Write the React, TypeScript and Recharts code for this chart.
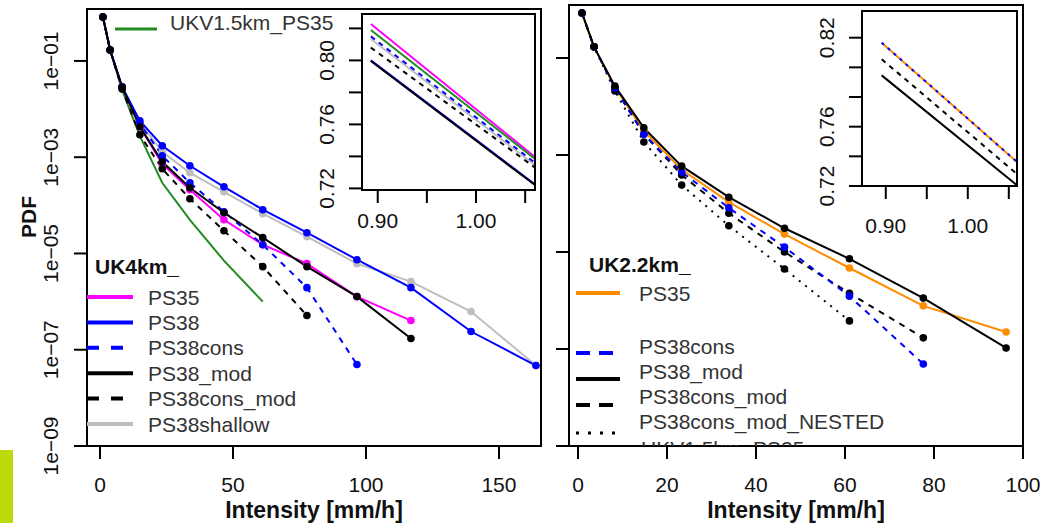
import { Line, LineChart, XAxis, YAxis } from 'recharts'

const FONT = '"Liberation Sans", Arial, Helvetica, sans-serif'

// ---- UK4km panel (left) ----
const uk4Intensity = [1.1, 3.8, 8.3, 15, 23.4, 33.8, 46.6, 61.2, 77.8, 96.6, 116.9, 139.5, 163.9]
const uk4PS35 = [0.818, 0.169, 0.0288, 0.00428, 0.00073, 0.000211, 5.02e-5, 1.52e-5, 6.14e-6, 1.27e-6, 4.04e-7]
const uk4PS38 = [0.818, 0.169, 0.029, 0.00569, 0.00173, 0.000664, 0.000243, 8.11e-5, 2.7e-5, 7.43e-6, 1.95e-6, 2.39e-7, 4.7e-8]
const uk4PS38cons = [0.818, 0.169, 0.0285, 0.005, 0.00107, 0.000294, 7.36e-5, 1.52e-5, 1.95e-6, 4.93e-8]
const uk4PS38mod = [0.818, 0.169, 0.0288, 0.00428, 0.000804, 0.000232, 7.01e-5, 2.13e-5, 5.32e-6, 1.27e-6, 1.71e-7]
const uk4PS38consMod = [0.818, 0.169, 0.026, 0.00292, 0.000574, 0.000137, 2.97e-5, 5.32e-6, 5.13e-7]
const uk4PS38shallow = [0.818, 0.169, 0.029, 0.00513, 0.00129, 0.000474, 0.000191, 6.7e-5, 2.23e-5, 6.14e-6, 2.6e-6, 6.21e-7, 4.7e-8]
const ukvPS35 = [0.818, 0.169, 0.0251, 0.00275, 0.000295, 5.0e-5, 7.1e-6, 1.0e-6]

// ---- UK2.2km panel (right) ----
const uk22Intensity = [0.9, 3.6, 8.3, 14.8, 23.3, 33.9, 46.4, 61.0, 77.6, 96.2]
const uk22PS35 = [0.847, 0.17, 0.0251, 0.00316, 0.000501, 0.000107, 2.34e-5, 4.68e-6, 7.76e-7, 2.24e-7]
const uk22PS38cons = [0.847, 0.17, 0.024, 0.00269, 0.000447, 8.13e-5, 1.26e-5, 1.23e-6, 4.9e-8]
const uk22PS38mod = [0.847, 0.17, 0.0263, 0.00363, 0.000589, 0.000135, 3.09e-5, 7.24e-6, 1.12e-6, 1.05e-7]
const uk22PS38consMod = [0.847, 0.17, 0.024, 0.00269, 0.000389, 6.31e-5, 1.0e-5, 1.41e-6, 1.7e-7]
const uk22Nested = [0.847, 0.17, 0.0209, 0.00186, 0.00024, 3.47e-5, 4.47e-6, 3.8e-7]

// ---- insets (zoom on first bin) ----
const inset4X = [0.893, 1.06]
const inset4PS35 = [0.8228, 0.7396]
const inset4UKV = [0.819, 0.7384]
const inset4PS38cons = [0.815, 0.736]
const inset4Shallow = [0.8134, 0.7345]
const inset4ConsMod = [0.808, 0.733]
const inset4PS38 = [0.8, 0.7225]
const inset4Mod = [0.7996, 0.7221]

const inset22X = [0.895, 1.06]
const inset22PS35 = [0.8166, 0.7362]
const inset22PS38cons = [0.8166, 0.7362]
const inset22ConsMod = [0.8055, 0.7281]
const inset22Mod = [0.7946, 0.7205]

const logTicks = [1e-9, 1e-7, 1e-5, 1e-3, 1e-1]
const logTickLabels = ['1e\u221209', '1e\u221207', '1e\u221205', '1e\u221203', '1e\u221201']
const uk4XTicks = [0, 50, 100, 150]
const uk22XTicks = [0, 20, 40, 60, 80, 100]
const insetYTicks = [0.72, 0.74, 0.76, 0.78, 0.8, 0.82]
const insetXTicks = [0.9, 0.95, 1.0, 1.05]

const pts = (xs: number[], ys: number[]) => ys.map((y, i) => ({ x: xs[i], y }))

type S = { name: string; data: { x: number; y: number }[]; color: string; dash?: string; dots?: boolean; w?: number }

const uk4Series: S[] = [
  { name: 'PS38shallow', data: pts(uk4Intensity, uk4PS38shallow), color: '#BEBEBE', dots: true },
  { name: 'UKV1.5km_PS35', data: pts(uk4Intensity, ukvPS35), color: '#228B22' },
  { name: 'PS35', data: pts(uk4Intensity, uk4PS35), color: '#FF00FF', dots: true },
  { name: 'PS38', data: pts(uk4Intensity, uk4PS38), color: '#0000FF', dots: true },
  { name: 'PS38cons', data: pts(uk4Intensity, uk4PS38cons), color: '#0000FF', dash: '6 6', dots: true },
  { name: 'PS38cons_mod', data: pts(uk4Intensity, uk4PS38consMod), color: '#000000', dash: '6 6', dots: true },
  { name: 'PS38_mod', data: pts(uk4Intensity, uk4PS38mod), color: '#000000', dots: true },
]

const uk22Series: S[] = [
  { name: 'PS35', data: pts(uk22Intensity, uk22PS35), color: '#FF8C00', dots: true },
  { name: 'PS38cons_mod_NESTED', data: pts(uk22Intensity, uk22Nested), color: '#000000', dash: '2 6', dots: true },
  { name: 'PS38cons_mod', data: pts(uk22Intensity, uk22PS38consMod), color: '#000000', dash: '6 6', dots: true },
  { name: 'PS38cons', data: pts(uk22Intensity, uk22PS38cons), color: '#0000FF', dash: '6 6', dots: true },
  { name: 'PS38_mod', data: pts(uk22Intensity, uk22PS38mod), color: '#000000', dots: true },
]

const inset4Series: S[] = [
  { name: 'PS38shallow', data: pts(inset4X, inset4Shallow), color: '#BEBEBE' },
  { name: 'PS35', data: pts(inset4X, inset4PS35), color: '#FF00FF' },
  { name: 'UKV', data: pts(inset4X, inset4UKV), color: '#228B22' },
  { name: 'PS38cons', data: pts(inset4X, inset4PS38cons), color: '#0000FF', dash: '5 5' },
  { name: 'PS38cons_mod', data: pts(inset4X, inset4ConsMod), color: '#000000', dash: '5 5' },
  { name: 'PS38', data: pts(inset4X, inset4PS38), color: '#0000FF' },
  { name: 'PS38_mod', data: pts(inset4X, inset4Mod), color: '#000000' },
]

const inset22Series: S[] = [
  { name: 'PS35', data: pts(inset22X, inset22PS35), color: '#FF8C00' },
  { name: 'PS38cons', data: pts(inset22X, inset22PS38cons), color: '#0000FF', dash: '3 5' },
  { name: 'PS38cons_mod', data: pts(inset22X, inset22ConsMod), color: '#000000', dash: '5 5' },
  { name: 'PS38_mod', data: pts(inset22X, inset22Mod), color: '#000000' },
]

function renderLines(series: S[]) {
  return series.map((s) => (
    <Line
      key={s.name}
      data={s.data}
      dataKey='y'
      type='linear'
      stroke={s.color}
      strokeWidth={s.w ?? 2}
      strokeDasharray={s.dash}
      dot={s.dots ? { r: 3.8, fill: s.color, stroke: 'none' } : false}
      activeDot={false}
      isAnimationActive={false}
    />
  ))
}

const txt = { fontFamily: FONT, fontSize: 21, fill: '#111' }

function MainPanel(props: {
  left: number; width: number; top: number; yWidth: number; right: number
  xDomain: [number, number]; yMax: number; xTicks: number[]; series: S[]; labels: boolean
}) {
  const { left, width, top, yWidth, right, xDomain, yMax, xTicks, series, labels } = props
  return (
    <div style={{ position: 'absolute', left, top: 0 }}>
      <LineChart width={width} height={523} margin={{ top, right, bottom: 0, left: 0 }}>
        <XAxis
          type='number'
          dataKey='x'
          domain={xDomain}
          allowDataOverflow
          ticks={xTicks}
          interval={0}
          height={77}
          tickSize={13}
          stroke='#000'
          axisLine={false}
          tickLine={{ stroke: '#000', strokeWidth: 2 }}
          tick={(p: any) => (
            <text x={p.x} y={492} textAnchor='middle' style={txt}>
              {p.payload.value}
            </text>
          )}
        />
        <YAxis
          type='number'
          scale='log'
          domain={[1e-9, yMax]}
          allowDataOverflow
          ticks={logTicks}
          interval={0}
          width={yWidth}
          tickSize={13}
          stroke='#000'
          axisLine={false}
          tickLine={{ stroke: '#000', strokeWidth: 2 }}
          tick={(p: any) =>
            labels ? (
              <text transform={`translate(58, ${p.y}) rotate(-90)`} textAnchor='middle' style={txt}>
                {logTickLabels[logTicks.indexOf(p.payload.value)]}
              </text>
            ) : (
              <g />
            )
          }
        />
        {renderLines(series)}
      </LineChart>
    </div>
  )
}

function Inset(props: {
  left: number; width: number; top: number; right: number; xHeight: number
  xDomain: [number, number]; yDomain: [number, number]; yLabels: number[]; xLabelY: number; series: S[]
}) {
  const { left, width, top, right, xHeight, xDomain, yDomain, yLabels, xLabelY, series } = props
  return (
    <div style={{ position: 'absolute', left, top: 0 }}>
      <LineChart width={width} height={240} margin={{ top, right, bottom: 0, left: 0 }}>
        <XAxis
          type='number'
          dataKey='x'
          domain={xDomain}
          allowDataOverflow
          ticks={insetXTicks}
          interval={0}
          height={xHeight}
          tickSize={13}
          stroke='#000'
          axisLine={false}
          tickLine={{ stroke: '#000', strokeWidth: 2 }}
          tick={(p: any) =>
            [0.9, 1.0].includes(p.payload.value) ? (
              <text x={p.x} y={xLabelY} textAnchor='middle' style={txt}>
                {Number(p.payload.value).toFixed(2)}
              </text>
            ) : (
              <g />
            )
          }
        />
        <YAxis
          type='number'
          domain={yDomain}
          allowDataOverflow
          ticks={insetYTicks}
          interval={0}
          width={62}
          tickSize={13}
          stroke='#000'
          axisLine={false}
          tickLine={{ stroke: '#000', strokeWidth: 2 }}
          tick={(p: any) =>
            yLabels.includes(p.payload.value) ? (
              <text transform={`translate(34, ${p.y}) rotate(-90)`} textAnchor='middle' style={txt}>
                {Number(p.payload.value).toFixed(2)}
              </text>
            ) : (
              <g />
            )
          }
        />
        {renderLines(series)}
      </LineChart>
    </div>
  )
}

const uk4Legend = [
  { label: 'PS35', color: '#FF00FF' },
  { label: 'PS38', color: '#0000FF' },
  { label: 'PS38cons', color: '#0000FF', dash: '12 12' },
  { label: 'PS38_mod', color: '#000000' },
  { label: 'PS38cons_mod', color: '#000000', dash: '12 12' },
  { label: 'PS38shallow', color: '#BEBEBE' },
]

const uk22Legend = [
  { label: 'PS35', color: '#FF8C00', y: 293, ly: 293 },
  { label: 'PS38cons', color: '#0000FF', dash: '14 9', y: 346, ly: 353 },
  { label: 'PS38_mod', color: '#000000', y: 371, ly: 379 },
  { label: 'PS38cons_mod', color: '#000000', dash: '14 9', y: 396, ly: 405 },
  { label: 'PS38cons_mod_NESTED', color: '#000000', dash: '3 9', y: 421, ly: 433 },
]

function Overlay() {
  const lt = { fontFamily: FONT, fontSize: 21, fill: '#333' }
  const bold = { fontFamily: FONT, fontSize: 21, fontWeight: 700, fill: '#111' }
  const title = { fontFamily: FONT, fontSize: 23, fontWeight: 700, fill: '#111' }
  return (
    <svg width={1042} height={523} style={{ position: 'absolute', left: 0, top: 0, pointerEvents: 'none' }}>
      <defs>
        <clipPath id='rclip'>
          <rect x={569} y={5} width={454} height={441} />
        </clipPath>
      </defs>
      <rect x={87} y={9} width={454} height={437} fill='none' stroke='#000' strokeWidth={2} />
      <rect x={569} y={5} width={454} height={441} fill='none' stroke='#000' strokeWidth={2} />
      <rect x={362} y={14} width={173} height={176} fill='none' stroke='#000' strokeWidth={2} />
      <rect x={862} y={11} width={155} height={175} fill='none' stroke='#000' strokeWidth={2} />
      <rect x={0} y={450} width={13} height={73} fill='#BDDB0B' />

      <text transform='translate(36, 217) rotate(-90)' textAnchor='middle' style={bold}>PDF</text>
      <text x={314} y={518} textAnchor='middle' style={title}>Intensity [mm/h]</text>
      <text x={796} y={518} textAnchor='middle' style={title}>Intensity [mm/h]</text>

      <line x1={115} x2={157} y1={29} y2={29} stroke='#228B22' strokeWidth={3} />
      <text x={170} y={30} style={lt}>UKV1.5km_PS35</text>

      <text x={95} y={274} style={bold}>UK4km_</text>
      {uk4Legend.map((e, i) => {
        const y = 297 + i * 25.4
        return (
          <g key={e.label}>
            <line x1={87} x2={133} y1={y} y2={y} stroke={e.color} strokeWidth={4} strokeDasharray={e.dash} />
            <text x={148} y={y + 7.5} style={lt}>{e.label}</text>
          </g>
        )
      })}

      <text x={589} y={272} style={bold}>UK2.2km_</text>
      {uk22Legend.map((e) => (
        <g key={e.label}>
          <line
            x1={576}
            x2={620}
            y1={e.ly}
            y2={e.ly}
            stroke={e.color}
            strokeWidth={e.dash === '3 9' ? 3 : 4}
            strokeDasharray={e.dash}
          />
          <text x={639} y={e.y + 7.5} style={lt}>{e.label}</text>
        </g>
      ))}
      <g clipPath='url(#rclip)'>
        <text x={641} y={456} style={lt}>UKV1.5km_PS35</text>
      </g>
    </svg>
  )
}

export default function App() {
  return (
    <div style={{ position: 'absolute', left: 0, top: 0, width: 1042, height: 523, background: '#fff', overflow: 'hidden' }}>
      <MainPanel left={0} width={548} top={9} yWidth={87} right={7} xDomain={[-4.89, 165.8]} yMax={1.2} xTicks={uk4XTicks} series={uk4Series} labels />
      <MainPanel left={500} width={542} top={5} yWidth={69} right={19} xDomain={[-2.02, 100]} yMax={1.24} xTicks={uk22XTicks} series={uk22Series} labels={false} />
      <Inset left={300} width={245} top={14} right={10} xHeight={50} xDomain={[0.884, 1.06]} yDomain={[0.719, 0.829]} yLabels={[0.72, 0.76, 0.8]} xLabelY={228} series={inset4Series} />
      <Inset left={800} width={230} top={11} right={13} xHeight={54} xDomain={[0.871, 1.06]} yDomain={[0.72, 0.838]} yLabels={[0.72, 0.76, 0.82]} xLabelY={233} series={inset22Series} />
      <Overlay />
    </div>
  )
}
